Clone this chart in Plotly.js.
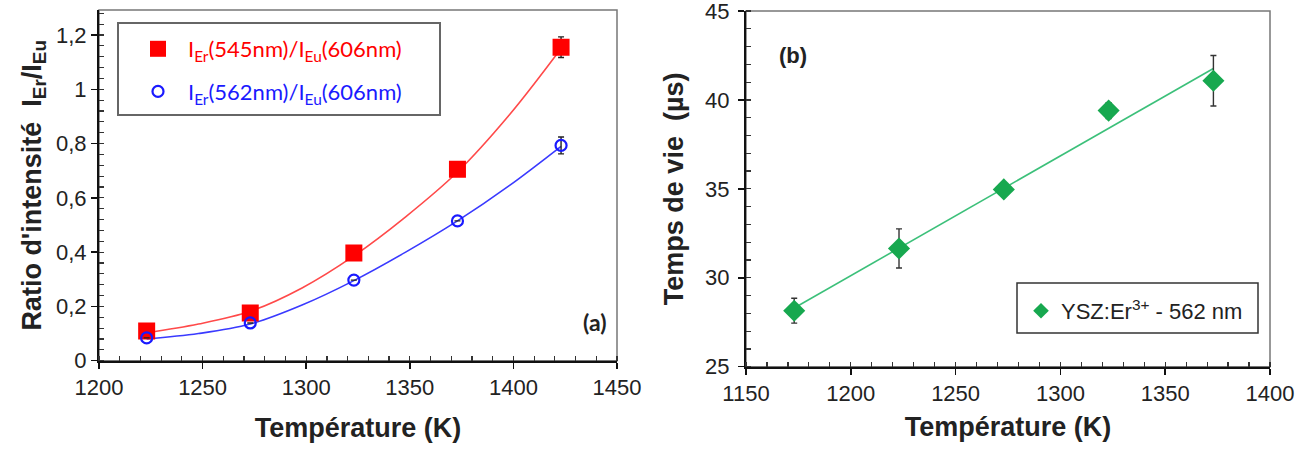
<!DOCTYPE html>
<html>
<head>
<meta charset="utf-8">
<script src="https://cdn.plot.ly/plotly-3.0.1.min.js"></script>
<style>html,body{margin:0;padding:0;background:#fff;}#chart{width:1302px;height:451px;}</style>
</head>
<body>
<div id="chart"></div>
<script>
// ---- Panel (a): intensity ratio vs temperature ----
const tempA = [1223, 1273, 1323, 1373, 1423];
const ratio545 = [0.109, 0.176, 0.397, 0.705, 1.155];
const err545 = [0, 0, 0, 0, 0.038];
const ratio562 = [0.084, 0.139, 0.297, 0.515, 0.793];
const err562 = [0, 0, 0, 0, 0.031];
// fitted trend curves
const fitTempA = [1223, 1248, 1273, 1298, 1323, 1348, 1373, 1398, 1423];
const fit545 = [0.103, 0.135, 0.182, 0.268, 0.386, 0.530, 0.695, 0.905, 1.150];
const fit562 = [0.080, 0.100, 0.135, 0.205, 0.295, 0.400, 0.515, 0.645, 0.790];
const nameA1 = '<span style="color:#ff0000">I<sub>Er</sub>(545nm)/I<sub>Eu</sub>(606nm)</span>';
const nameA2 = '<span style="color:#1a1aff">I<sub>Er</sub>(562nm)/I<sub>Eu</sub>(606nm)</span>';

// ---- Panel (b): lifetime vs temperature ----
const tempB = [1173, 1223, 1273, 1323, 1373];
const lifetime = [28.15, 31.65, 34.97, 39.4, 41.08];
const errLifetime = [0.7, 1.1, 0.3, 0.45, 1.42];
const fitTempB = [1173, 1373];
const fitLifetime = [28.3, 41.77];
const nameB = 'YSZ:Er<sup>3+</sup> - 562 nm';

const W = 1302, H = 451;
const tickFont = {family: 'Liberation Sans, Arial, sans-serif', size: 22, color: '#222'};
const titleFont = {family: 'Liberation Sans, Arial, sans-serif', size: 27, color: '#222', weight: 'bold'};

const traces = [
  {x: fitTempA, y: fit545, mode: 'lines', line: {color: '#ff4a4a', width: 1.6, shape: 'spline'}, showlegend: false, xaxis: 'x', yaxis: 'y', hoverinfo: 'skip'},
  {x: fitTempA, y: fit562, mode: 'lines', line: {color: '#3a3aff', width: 1.6, shape: 'spline'}, showlegend: false, xaxis: 'x', yaxis: 'y', hoverinfo: 'skip'},
  {x: tempA, y: ratio545, name: nameA1, legendgroup: 'a1', mode: 'markers', marker: {symbol: 'square', size: 17, color: '#ff0000'},
   error_y: {type: 'data', array: err545, visible: true, color: '#222', thickness: 1.4, width: 3}, xaxis: 'x', yaxis: 'y', legend: 'legend'},
  {x: tempA, y: ratio562, name: nameA2, legendgroup: 'a2', mode: 'markers', marker: {symbol: 'circle-open', size: 11, color: '#1a1aff', line: {width: 2.2}},
   error_y: {type: 'data', array: err562, visible: true, color: '#222', thickness: 1.4, width: 3}, xaxis: 'x', yaxis: 'y', legend: 'legend'},
  {x: fitTempB, y: fitLifetime, mode: 'lines', line: {color: '#3cc07a', width: 1.6}, showlegend: false, xaxis: 'x2', yaxis: 'y2', hoverinfo: 'skip'},
  {x: tempB, y: lifetime, name: nameB, mode: 'markers', marker: {symbol: 'diamond', size: 17, color: '#17a84f'},
   error_y: {type: 'data', array: errLifetime, visible: true, color: '#333', thickness: 1.4, width: 3}, xaxis: 'x2', yaxis: 'y2', legend: 'legend2'}
];

function xAxis(domain, range, anchor, standoff) {
  return {
    domain: domain, range: range, anchor: anchor, dtick: 50, tick0: 1150,
    showgrid: false, zeroline: false, showline: true, linecolor: '#111', linewidth: 2,
    ticks: 'outside', ticklen: 6, tickwidth: 1.5, tickcolor: '#111', ticklabeloverflow: 'allow',
    minor: {dtick: 10, ticks: 'inside', ticklen: 5, tickwidth: 1.2, tickcolor: '#333', showgrid: false},
    tickfont: tickFont, title: {text: 'Température (K)', font: titleFont, standoff: standoff}
  };
}
function yAxis(domain, range, anchor, dtick, minorDtick, title, standoff, labelStandoff) {
  return {
    domain: domain, range: range, anchor: anchor, dtick: dtick, tick0: 0,
    showgrid: false, zeroline: false, showline: true, linecolor: '#111', linewidth: 2,
    ticks: 'outside', ticklen: 6, tickwidth: 1.5, tickcolor: '#111', ticklabeloverflow: 'allow',
    ticklabelstandoff: labelStandoff,
    minor: {dtick: minorDtick, ticks: 'inside', ticklen: 5, tickwidth: 1.2, tickcolor: '#333', showgrid: false},
    tickfont: tickFont, title: {text: title, font: titleFont, standoff: standoff}
  };
}

const layout = {
  width: W, height: H,
  margin: {l: 0, r: 0, t: 0, b: 0},
  paper_bgcolor: '#fff', plot_bgcolor: '#fff',
  separators: ', ',
  showlegend: true,
  xaxis: xAxis([99/W, 617/W], [1200, 1450], 'y', 19),
  yaxis: yAxis([1 - 360.7/H, 1 - 10/H], [0, 1.292], 'x', 0.2, 0.04, 'Ratio d\'intensité  I<sub>Er</sub>/I<sub>Eu</sub>', 7, 0),
  xaxis2: xAxis([746/W, 1270/W], [1150, 1400], 'y2', 12),
  yaxis2: yAxis([1 - 366.7/H, 1 - 11/H], [25, 45], 'x2', 5, 1, 'Temps de vie  (µs)', 14, 4),
  legend: {
    x: 128/W, y: 1 - 28/H, xanchor: 'left', yanchor: 'top',
    bgcolor: 'rgba(0,0,0,0)', borderwidth: 0,
    font: {family: 'Lato, Open Sans, sans-serif', size: 22, color: '#ff0000'},
    itemsizing: 'trace', itemwidth: 50, tracegroupgap: 11
  },
  legend2: {
    x: 1021/W, y: 1 - 290/H, xanchor: 'left', yanchor: 'top',
    bgcolor: 'rgba(0,0,0,0)', borderwidth: 0, itemwidth: 20, itemsizing: 'constant',
    font: {family: 'Liberation Sans, Arial, sans-serif', size: 22, color: '#222'}
  },
  shapes: [
    {type: 'rect', xref: 'x domain', yref: 'y domain', x0: 0, x1: 1, y0: 0, y1: 1, line: {color: '#777', width: 1.5}, layer: 'below'},
    {type: 'rect', xref: 'x2 domain', yref: 'y2 domain', x0: 0, x1: 1, y0: 0, y1: 1, line: {color: '#777', width: 1.5}, layer: 'below'},
    {type: 'rect', xref: 'paper', yref: 'paper', x0: 118/W, x1: 440/W, y0: 1 - 115/H, y1: 1 - 23/H, line: {color: '#666', width: 2}, fillcolor: '#fff', layer: 'below'},
    {type: 'rect', xref: 'paper', yref: 'paper', x0: 1017/W, x1: 1258/W, y0: 1 - 333/H, y1: 1 - 283/H, line: {color: '#333', width: 1.5}, fillcolor: '#fff', layer: 'below'}
  ],
  annotations: [
    {text: '<b>(a)</b>', xref: 'paper', yref: 'paper', x: 594/W, y: 1 - 322/H, xanchor: 'center', yanchor: 'middle', showarrow: false,
     font: {family: 'Lato, Open Sans, sans-serif', size: 23, color: '#222'}},
    {text: '<b>(b)</b>', xref: 'paper', yref: 'paper', x: 793/W, y: 1 - 55/H, xanchor: 'center', yanchor: 'middle', showarrow: false,
     font: {family: 'Liberation Sans, Arial, sans-serif', size: 22, color: '#222'}}
  ]
};

Plotly.newPlot('chart', traces, layout, {displayModeBar: false, staticPlot: true});
</script>
</body>
</html>
